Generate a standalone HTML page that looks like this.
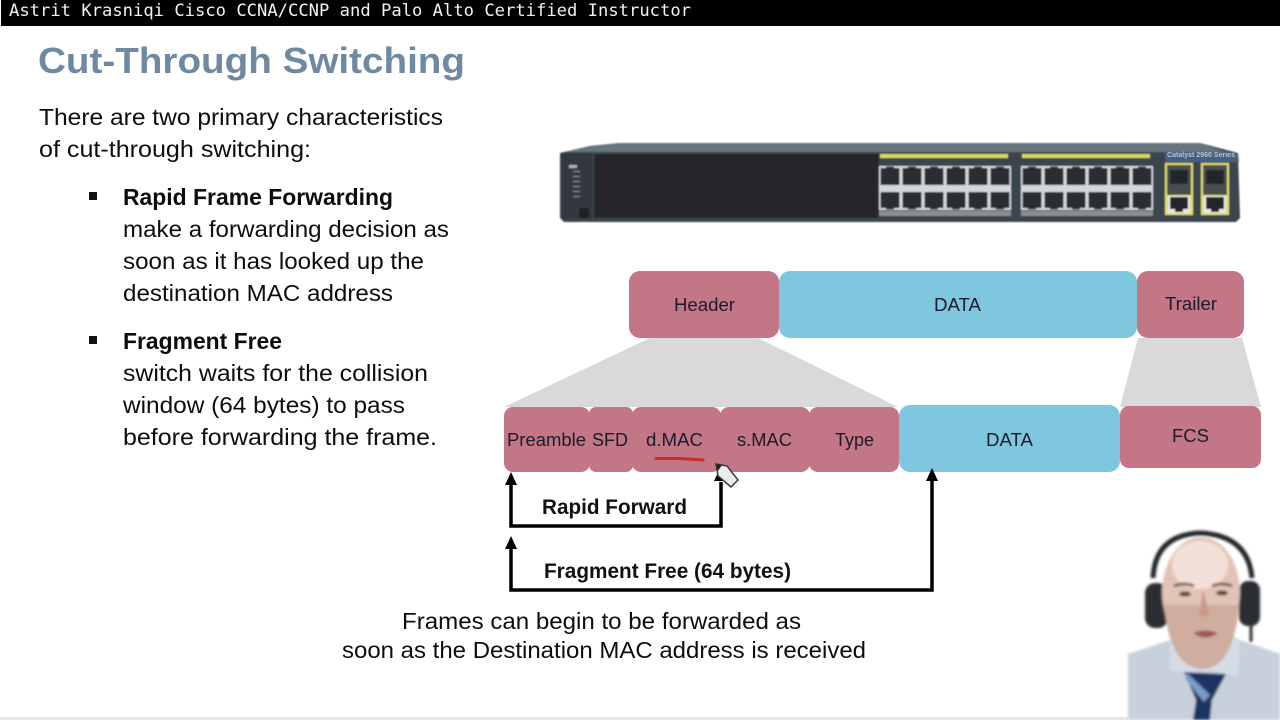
<!DOCTYPE html>
<html><head><meta charset="utf-8"><title>Cut-Through Switching</title>
<style>
html,body{margin:0;padding:0;background:#fff;width:1280px;height:720px;overflow:hidden}
svg{display:block}
text{font-family:"Liberation Sans",Arial,sans-serif}
.b{font-size:23px;fill:#0d0d0d}
.bb{font-size:23px;font-weight:bold;fill:#0d0d0d}
.l{font-size:18px;fill:#1b1b2b;text-anchor:start}
</style></head><body>
<svg width="1280" height="720" viewBox="0 0 1280 720" xmlns="http://www.w3.org/2000/svg">
<defs>
<pattern id="p" x="879" y="166" width="22" height="44" patternUnits="userSpaceOnUse">
<rect width="22" height="44" fill="#d4d7da"/>
<path d="M1.500 2H7V0.500H15V2H20.500V19H1.500Z" fill="#2a2e32"/>
<path d="M1.500 26H20.500V42H15V43.500H7V42H1.500Z" fill="#2a2e32"/>
</pattern>
<pattern id="p2" x="1021" y="166" width="22" height="44" patternUnits="userSpaceOnUse">
<rect width="22" height="44" fill="#d4d7da"/>
<path d="M1.500 2H7V0.500H15V2H20.500V19H1.500Z" fill="#2a2e32"/>
<path d="M1.500 26H20.500V42H15V43.500H7V42H1.500Z" fill="#2a2e32"/>
</pattern>
<filter id="s" x="-5%" y="-5%" width="110%" height="110%"><feGaussianBlur stdDeviation="0.7"/></filter>
<filter id="s2" x="-10%" y="-10%" width="120%" height="120%"><feGaussianBlur stdDeviation="1.2"/></filter>
</defs>

<rect width="1280" height="720" fill="#fff"/>
<rect x="1" y="0" width="1279" height="26" fill="#000"/>
<text x="9" y="16" font-size="17" fill="#f2f2f2" style="font-family:'DejaVu Sans Mono',monospace" textLength="682" lengthAdjust="spacingAndGlyphs">Astrit Krasniqi Cisco CCNA/CCNP and Palo Alto Certified Instructor</text>
<rect x="0" y="717" width="1128" height="3" fill="#e9e6da"/>

<text x="38" y="73" font-size="36" font-weight="bold" fill="#7089a2" textLength="427" lengthAdjust="spacingAndGlyphs">Cut-Through Switching</text>

<text class="b" x="39" y="125" textLength="404" lengthAdjust="spacingAndGlyphs">There are two primary characteristics</text>
<text class="b" x="39" y="157" textLength="272" lengthAdjust="spacingAndGlyphs">of cut-through switching:</text>
<rect x="89" y="192" width="8" height="8" fill="#111"/>
<text class="bb" x="123" y="205" textLength="270" lengthAdjust="spacingAndGlyphs">Rapid Frame Forwarding</text>
<text class="b" x="123" y="237" textLength="326" lengthAdjust="spacingAndGlyphs">make a forwarding decision as</text>
<text class="b" x="123" y="269" textLength="301" lengthAdjust="spacingAndGlyphs">soon as it has looked up the</text>
<text class="b" x="123" y="301" textLength="270" lengthAdjust="spacingAndGlyphs">destination MAC address</text>
<rect x="89" y="336" width="8" height="8" fill="#111"/>
<text class="bb" x="123" y="349" textLength="159" lengthAdjust="spacingAndGlyphs">Fragment Free</text>
<text class="b" x="123" y="381" textLength="305" lengthAdjust="spacingAndGlyphs">switch waits for the collision</text>
<text class="b" x="123" y="413" textLength="282" lengthAdjust="spacingAndGlyphs">window (64 bytes) to pass</text>
<text class="b" x="123" y="445" textLength="314" lengthAdjust="spacingAndGlyphs">before forwarding the frame.</text>

<!-- switch -->
<g filter="url(#s)">
<path d="M560 153L590 146L620 143H1200L1238 153L1240 218L1236 222H564L560 218Z" fill="#3a444e"/>
<path d="M562 153L590 146L620 143H1200L1225 152H562Z" fill="#68747f"/>
<path d="M1165 152H1225L1238 153L1239 162H1165Z" fill="#47617f"/>
<rect x="594" y="154" width="285" height="64" rx="2" fill="#25282c"/>
<rect x="562" y="153" width="30" height="66" fill="#30373e"/>
<rect x="569" y="165" width="8" height="3" fill="#aab2b8"/>
<rect x="573" y="171" width="7" height="1" fill="#8a9298"/>
<rect x="573" y="176" width="7" height="1" fill="#8a9298"/>
<rect x="573" y="181" width="7" height="1" fill="#8a9298"/>
<rect x="573" y="186" width="7" height="1" fill="#8a9298"/>
<rect x="573" y="191" width="7" height="1" fill="#8a9298"/>
<rect x="573" y="196" width="7" height="1" fill="#8a9298"/>
<rect x="579" y="208" width="10" height="10" rx="2" fill="#1c2024"/>
<rect x="880" y="154" width="128" height="4" fill="#d8d860"/>
<rect x="1022" y="154" width="128" height="4" fill="#d8d860"/>
<rect x="879" y="166" width="132" height="44" fill="url(#p)"/>
<rect x="1021" y="166" width="132" height="44" fill="url(#p2)"/>
<rect x="879" y="211" width="132" height="5" fill="#8a8f90"/>
<rect x="1021" y="211" width="132" height="5" fill="#8a8f90"/>
<rect x="1165" y="163" width="28" height="52" fill="#e2dc70"/>
<rect x="1201" y="163" width="28" height="52" fill="#e2dc70"/>
<rect x="1167" y="165" width="24" height="30" fill="#4a4f50"/>
<rect x="1203" y="165" width="24" height="30" fill="#4a4f50"/>
<rect x="1170" y="170" width="18" height="14" fill="#23272b"/>
<rect x="1206" y="170" width="18" height="14" fill="#23272b"/>
<rect x="1168" y="196" width="22" height="17" fill="#e6e8ea"/>
<rect x="1204" y="196" width="22" height="17" fill="#e6e8ea"/>
<path d="M1170 197H1188V209H1183V212H1175V209H1170Z" fill="#24282c"/>
<path d="M1206 197H1224V209H1219V212H1211V209H1206Z" fill="#24282c"/>
</g>
<text x="1167" y="157" font-size="7" font-weight="bold" fill="#b4c4d4" textLength="68" lengthAdjust="spacingAndGlyphs">Catalyst 2960 Series</text>

<!-- funnels -->
<polygon points="650,338 758,338 898,407 504,407" fill="#d9d9d9"/>
<polygon points="1138,338 1242,338 1261,407 1120,407" fill="#d9d9d9"/>

<!-- top row -->
<rect x="629" y="271" width="150" height="67" rx="11" fill="#c27686"/>
<rect x="779" y="271" width="358" height="67" rx="11" fill="#7fc7df"/>
<rect x="1137" y="271" width="107" height="67" rx="11" fill="#c27686"/>
<text class="l" x="674" y="311" textLength="61" lengthAdjust="spacingAndGlyphs">Header</text>
<text class="l" x="934" y="311" textLength="47" lengthAdjust="spacingAndGlyphs">DATA</text>
<text class="l" x="1165" y="310" textLength="52" lengthAdjust="spacingAndGlyphs">Trailer</text>

<!-- second row -->
<rect x="504" y="407" width="86" height="65" rx="9" fill="#c27686"/>
<rect x="589" y="407" width="44" height="65" rx="7" fill="#c27686"/>
<rect x="632" y="407" width="89" height="65" rx="9" fill="#c27686"/>
<rect x="720" y="407" width="90" height="65" rx="9" fill="#c27686"/>
<rect x="809" y="407" width="90" height="65" rx="9" fill="#c27686"/>
<rect x="899" y="405" width="221" height="67" rx="11" fill="#7fc7df"/>
<rect x="1120" y="406" width="141" height="62" rx="9" fill="#c27686"/>
<text class="l" x="507" y="446" textLength="79" lengthAdjust="spacingAndGlyphs">Preamble</text>
<text class="l" x="592" y="446" textLength="36" lengthAdjust="spacingAndGlyphs">SFD</text>
<text class="l" x="646" y="446" textLength="57" lengthAdjust="spacingAndGlyphs">d.MAC</text>
<text class="l" x="737" y="446" textLength="55" lengthAdjust="spacingAndGlyphs">s.MAC</text>
<text class="l" x="835" y="446" textLength="39" lengthAdjust="spacingAndGlyphs">Type</text>
<text class="l" x="986" y="446" textLength="47" lengthAdjust="spacingAndGlyphs">DATA</text>
<text class="l" x="1172" y="442" textLength="37" lengthAdjust="spacingAndGlyphs">FCS</text>
<path d="M656 458.500L680 458.500L703 460" stroke="#c92a2e" stroke-width="3" fill="none" stroke-linecap="round"/>

<!-- arrows -->
<path d="M511 482V526H721V482" fill="none" stroke="#000" stroke-width="3.500"/>
<path d="M511 545V590H932V478" fill="none" stroke="#000" stroke-width="3.500"/>
<polygon points="511,472 517,485 505,485" fill="#000"/>
<polygon points="720,468 726,481 714,481" fill="#000"/>
<polygon points="511,536 517,549 505,549" fill="#000"/>
<polygon points="932,468 938,481 926,481" fill="#000"/>

<!-- cursor -->
<path d="M716 464L727 466L738 480L731 487L718 476Z" fill="#ececec" stroke="#3a3a3a" stroke-width="1.500"/>
<path d="M716 464L722 465L718 471Z" fill="#222"/>

<text x="542" y="514" font-size="21" font-weight="bold" fill="#111" textLength="145" lengthAdjust="spacingAndGlyphs">Rapid Forward</text>
<text x="544" y="578" font-size="21" font-weight="bold" fill="#111" textLength="247" lengthAdjust="spacingAndGlyphs">Fragment Free (64 bytes)</text>
<text class="b" x="402" y="629" textLength="399" lengthAdjust="spacingAndGlyphs">Frames can begin to be forwarded as</text>
<text class="b" x="342" y="658" textLength="524" lengthAdjust="spacingAndGlyphs">soon as the Destination MAC address is received</text>

<!-- presenter -->
<g filter="url(#s2)">
<path d="M1128 654L1170 640L1178 636H1232L1240 640L1280 654V720H1128Z" fill="#c8d0dc"/>
<path d="M1170 640L1178 636L1200 672L1232 636L1240 642L1238 676L1215 672H1190L1170 670Z" fill="#d6dce6"/>
<path d="M1184 672L1226 674L1212 700L1210 720H1193L1196 700Z" fill="#1f3460"/>
<path d="M1186 672L1210 695L1204 702L1186 680Z" fill="#7a9ac8"/>
<path d="M1153 578Q1155 535 1200 533Q1248 535 1252 578" fill="none" stroke="#22252a" stroke-width="5"/>
<rect x="1145" y="583" width="23" height="45" rx="10" fill="#2b2d30"/>
<rect x="1239" y="581" width="21" height="45" rx="9" fill="#2b2d30"/>
<path d="M1251 622V642" stroke="#2b2d30" stroke-width="3"/>
<ellipse cx="1201" cy="592" rx="39" ry="55" fill="#e2c4b6"/>
<path d="M1164 605Q1170 668 1202 669Q1234 668 1239 605Z" fill="#cfae9f"/>
<ellipse cx="1200" cy="565" rx="28" ry="24" fill="#f2e0d8"/>
<path d="M1174 586Q1184 582 1194 586" stroke="#5a4238" stroke-width="2.500" fill="none"/>
<path d="M1212 586Q1222 582 1232 586" stroke="#5a4238" stroke-width="2.500" fill="none"/>
<ellipse cx="1185" cy="594" rx="6" ry="2.500" fill="#5a4238"/>
<ellipse cx="1222" cy="593" rx="6" ry="2.500" fill="#5a4238"/>
<path d="M1203 590L1199 616H1210Z" fill="#c99a86"/>
<path d="M1193 633Q1206 628 1218 633Q1206 642 1193 633Z" fill="#a05a55"/>
</g>
</svg>
</body></html>
